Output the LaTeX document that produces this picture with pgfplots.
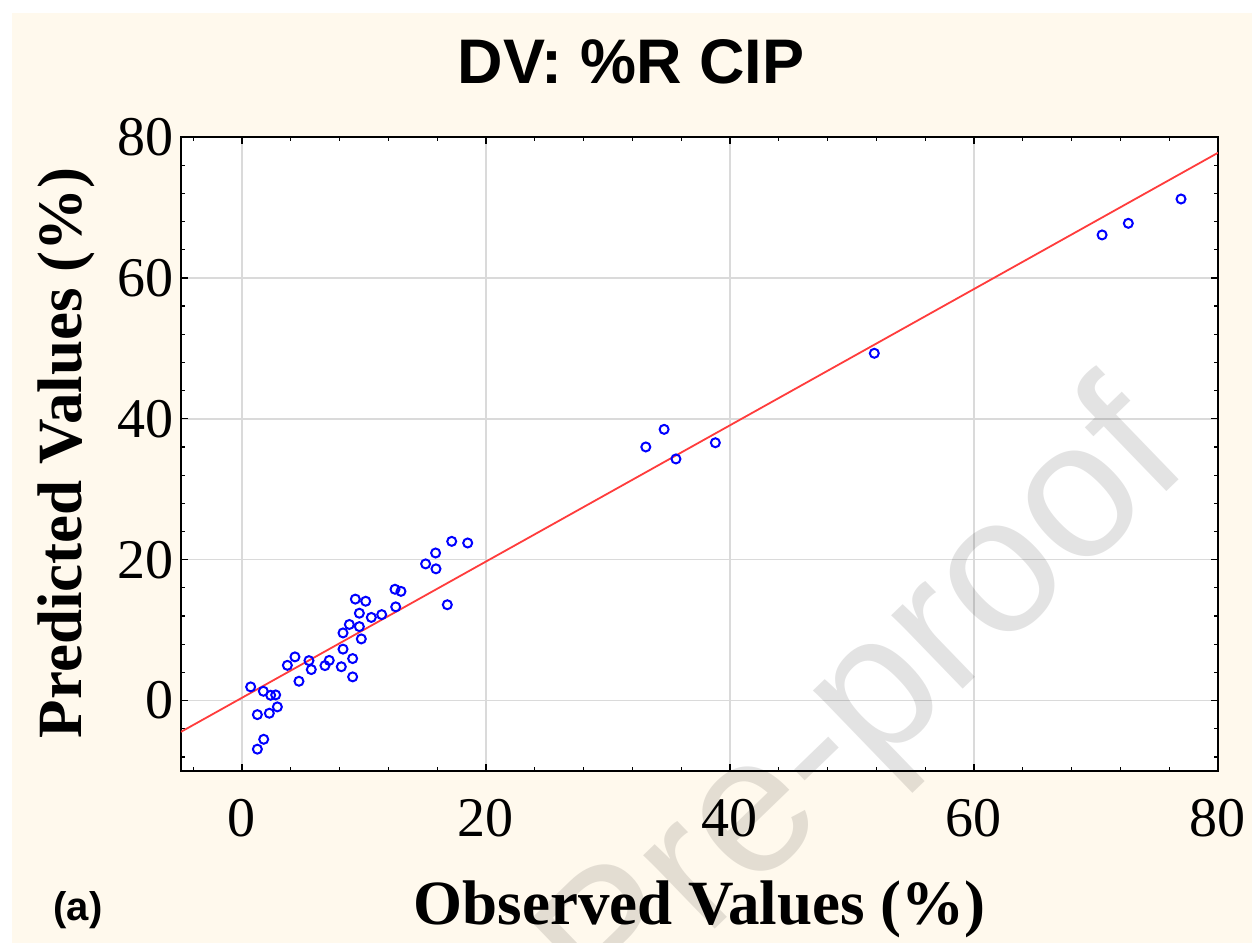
\documentclass[border=0pt]{standalone}
\usepackage{fontspec}
\setmainfont{Liberation Serif}
\newfontfamily\arialfont{Liberation Sans}
\usepackage{pgfplots}
\pgfplotsset{compat=1.18}
\definecolor{cream}{RGB}{255,249,237}
\definecolor{gridgray}{RGB}{218,218,218}
\definecolor{markblue}{RGB}{0,0,255}
\definecolor{fitred}{RGB}{255,60,60}
\begin{document}
\begin{tikzpicture}
\useasboundingbox (-90.5bp,-86bp) rectangle (535.5bp,385.5bp);
\clip (-90.5bp,-86bp) rectangle (535.5bp,385.5bp);
\fill[white] (-90.5bp,-86bp) rectangle (535.5bp,385.5bp);
\fill[cream] (-84.5bp,-86bp) rectangle (535.5bp,379bp);
\begin{axis}[
  at={(0,0)}, anchor=south west,
  scale only axis, width=518.5bp, height=317bp,
  xmin=-5, xmax=80, ymin=-10, ymax=80,
  xtick={0,20,...,80}, ytick={0,20,...,80},
  minor xtick={-4,0,...,80}, minor ytick={-8,-4,...,80},
  tick pos=both, tick align=inside,
  major tick length=3.5bp, minor tick length=2.2bp,
  every tick/.style={black, line width=0.6bp},
  grid=major, major grid style={gridgray, line width=0.8bp},
  axis line style={black, line width=1.1bp},
  axis background/.style={fill=white},
  /pgf/number format/assume math mode=true,
  ticklabel style={font=\fontsize{28bp}{28bp}\selectfont},
  xticklabel style={yshift=-10.5bp},
  title={\arialfont\bfseries DV: \%R CIP},
  title style={at={(axis description cs:0.434,1.099)}, anchor=center, font=\fontsize{31.5bp}{31.5bp}\selectfont},
  xlabel={\bfseries Observed Values (\%)},
  ylabel={\bfseries Predicted Values (\%)},
  xlabel style={at={(axis description cs:0.5,-0.2177)}, anchor=center, font=\fontsize{31.5bp}{31.5bp}\selectfont},
  ylabel style={at={(axis description cs:-0.1109,0.5016)}, anchor=center, font=\fontsize{31.5bp}{31.5bp}\selectfont},
]
\addplot[fitred, line width=0.9bp, no marks] coordinates {(-5,-4.44) (80,77.76)};
\addplot[only marks, mark=o, mark size=2.25bp, markblue, line width=1bp] table {
x y
15.05 19.4
15.9 18.7
15.87 20.95
17.19 22.6
18.5 22.37
12.54 15.8
13.03 15.5
9.29 14.4
10.14 14.1
16.83 13.6
12.6 13.3
9.62 12.4
10.6 11.8
11.45 12.2
8.8 10.8
9.62 10.5
8.28 9.6
9.78 8.75
8.28 7.3
4.34 6.2
3.72 5.0
5.49 5.67
5.68 4.4
6.8 4.96
7.15 5.7
8.14 4.8
9.07 5.96
9.07 3.36
4.67 2.74
0.71 1.94
1.75 1.32
2.35 0.75
2.76 0.8
2.9 -0.9
1.26 -2.0
2.24 -1.8
1.78 -5.5
1.26 -6.9
34.6 38.5
33.1 36.0
35.57 34.3
38.8 36.6
51.83 49.3
70.5 66.1
72.65 67.75
76.97 71.2
};
\end{axis}
\node[font=\arialfont\bfseries\fontsize{20bp}{20bp}\selectfont] at (-51.5bp,-69.5bp) {(a)};
\node[rotate=44, text=black, text opacity=0.11, font=\arialfont\fontsize{97bp}{97bp}\selectfont] at (343.5bp,30bp) {Pre-proof};
\end{tikzpicture}
\end{document}
